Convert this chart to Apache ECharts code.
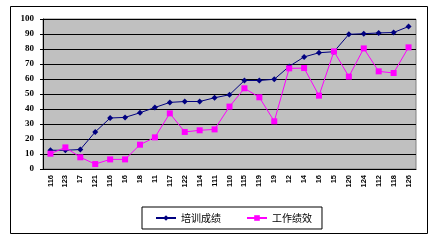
<!DOCTYPE html>
<html>
<head>
<meta charset="utf-8">
<script src="https://cdn.jsdelivr.net/npm/echarts@6/dist/echarts.min.js"></script>
<style>html,body{margin:0;padding:0;background:#fff;}#c{width:438px;height:242px;}</style>
</head>
<body>
<div id="c"></div>
<script>
const categories = ['116','123','17','121','116','16','18','11','117','122','114','111','110','115','119','19','12','14','16','15','120','124','112','118','126'];
const trainScores = [12.5,12.5,13,24.7,34,34.4,37.5,41,44.4,45,45,47.5,49.5,59,59,59.8,68.4,74.7,77.5,78.2,89.8,90.2,90.7,91,95];
const workScores = [10.2,14.4,7.8,3.3,6.4,6.4,16.2,21.1,37.1,24.7,25.8,26.4,41.6,53.8,47.8,31.8,67.1,67.3,48.9,78.4,61.6,80.4,65.1,64,81.1];
const seriesNames = ['培训成绩','工作绩效'];

const chart = echarts.init(document.getElementById('c'), null, {renderer:'canvas'});
chart.setOption({
  animation: false,
  backgroundColor: '#fff',
  graphic: [{
    type: 'rect', left: 8, top: 4, z: 0,
    shape: {x: 0.5, y: 0.5, width: 417, height: 227},
    style: {fill: 'none', stroke: '#000', lineWidth: 1}
  }],
  grid: {left: 43, right: 22, top: 19, bottom: 73, show: true, backgroundColor: '#c0c0c0', borderColor: '#808080', borderWidth: 1},
  legend: {
    left: 142, top: 207,
    padding: [6, 10, 6, 13],
    borderColor: '#000', borderWidth: 1,
    itemWidth: 20, itemHeight: 7, itemGap: 25,
    textStyle: {fontFamily: 'Noto Sans CJK SC', fontSize: 10, color: '#000'},
    data: seriesNames
  },
  xAxis: {
    type: 'category', data: categories,
    axisLine: {lineStyle: {color: '#000'}},
    axisTick: {lineStyle: {color: '#000'}, length: 3},
    axisLabel: {rotate: 90, interval: 0, fontFamily: 'Liberation Sans', fontWeight: 'bold', fontSize: 7.5, color: '#000', margin: 6}
  },
  yAxis: {
    type: 'value', min: 0, max: 100, interval: 10,
    axisLine: {show: true, lineStyle: {color: '#000'}},
    axisTick: {show: true, lineStyle: {color: '#000'}, length: 3},
    splitLine: {lineStyle: {color: '#000', width: 1}},
    axisLabel: {fontFamily: 'Liberation Serif', fontWeight: 'bold', fontSize: 9, color: '#000', margin: 9}
  },
  series: [{
    name: seriesNames[0], type: 'line', data: trainScores,
    symbol: 'diamond', symbolSize: 6,
    itemStyle: {color: '#000080'},
    lineStyle: {color: '#000080', width: 1}
  }, {
    name: seriesNames[1], type: 'line', data: workScores,
    symbol: 'rect', symbolSize: 6,
    itemStyle: {color: '#ff00ff'},
    lineStyle: {color: '#ff00ff', width: 1}
  }]
});
</script>
</body>
</html>
